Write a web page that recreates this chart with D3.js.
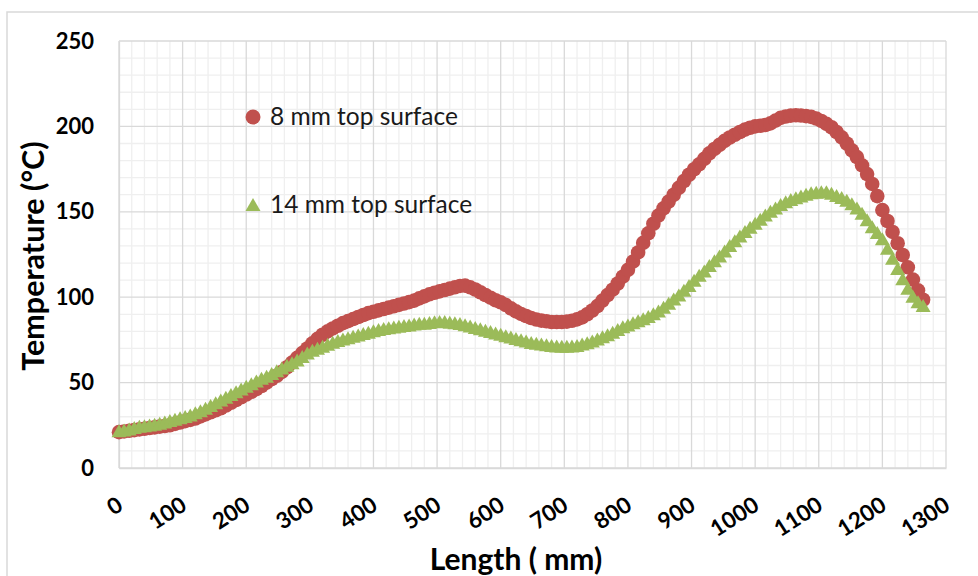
<!DOCTYPE html>
<html>
<head>
<meta charset="utf-8">
<script src="https://cdn.jsdelivr.net/npm/d3@7"></script>
<style>
  html, body { margin: 0; padding: 0; background: #fff; }
  svg { display: block; font-family: Lato, "Open Sans", sans-serif; }
</style>
</head>
<body>
<svg id="chart" width="978" height="576"></svg>
<script>
// measuring positions along the plate (mm)
const lengthMm = [
  0, 8, 16, 24, 32, 40, 48, 56, 64, 72,
  80, 88, 96, 104, 112, 120, 128, 136, 144, 152,
  160, 168, 176, 184, 192, 200, 208, 216, 224, 232,
  240, 248, 256, 264, 272, 280, 288, 296, 304, 312,
  320, 328, 336, 344, 352, 360, 368, 376, 384, 392,
  400, 408, 416, 424, 432, 440, 448, 456, 464, 472,
  480, 488, 496, 504, 512, 520, 528, 536, 544, 552,
  560, 568, 576, 584, 592, 600, 608, 616, 624, 632,
  640, 648, 656, 664, 672, 680, 688, 696, 704, 712,
  720, 728, 736, 744, 752, 760, 768, 776, 784, 792,
  800, 808, 816, 824, 832, 840, 848, 856, 864, 872,
  880, 888, 896, 904, 912, 920, 928, 936, 944, 952,
  960, 968, 976, 984, 992, 1000, 1008, 1016, 1024, 1032,
  1040, 1048, 1056, 1064, 1072, 1080, 1088, 1096, 1104, 1112,
  1120, 1128, 1136, 1144, 1152, 1160, 1168, 1176, 1184, 1192,
  1200, 1208, 1216, 1224, 1232, 1240, 1248, 1256, 1264
];

// 8 mm plate, top surface (°C)
const temp8mm = [
  21, 21.4, 21.8, 22.2, 22.6, 23, 23.4, 23.8, 24.2, 24.6,
  25, 25.8, 26.6, 27.4, 28.2, 29, 30.2, 31.4, 32.6, 33.8,
  35, 36.6, 38.2, 39.8, 41.4, 43, 44.6, 46.2, 48, 50,
  52, 54, 56.3, 59, 61.7, 64.5, 67.3, 70, 73, 75.6,
  78, 80, 81.7, 83.3, 84.8, 86, 87.2, 88.4, 89.6, 90.7,
  91.5, 92.3, 93.1, 93.9, 94.7, 95.5, 96.3, 97.1, 98, 99.3,
  100.5, 101.7, 102.6, 103.4, 104.2, 105, 105.8, 106.6, 106.8, 105.8,
  104.5, 102.9, 101.3, 99.7, 98.2, 97, 95.4, 93.5, 91.7, 90.2,
  89, 87.8, 86.9, 86.3, 85.9, 85.5, 85.5, 85.5, 85.7, 86.2,
  87, 88.2, 90, 92.2, 94.8, 98, 101.2, 104.4, 108, 112,
  116, 120.8, 126.2, 131.8, 137.4, 143, 147.8, 152, 156, 160,
  164, 168, 171.7, 174.9, 177.8, 181, 184.2, 186.8, 189.2, 191.5,
  193.5, 195.1, 196.7, 198.1, 199.2, 200, 200.4, 200.8, 201.8, 203.4,
  205, 205.8, 206.3, 206.5, 206.4, 206, 205.6, 204.6, 203.2, 201.5,
  199.5, 196.7, 193.6, 190, 186, 182, 177.2, 172.1, 166.3, 159.2,
  151, 144.6, 138.2, 131.6, 124.7, 117.5, 110.3, 104, 98.5
];

// 14 mm plate, top surface (°C)
const temp14mm = [
  21.5, 21.9, 22.6, 23.4, 24.1, 24.5, 24.9, 25.3, 25.9, 26.7,
  27.5, 28.3, 29.1, 29.9, 30.8, 32, 33.2, 34.7, 36.3, 37.9,
  39.5, 41.1, 42.7, 44.3, 45.9, 47.5, 49.1, 50.7, 52.2, 53.4,
  55, 56.6, 58.2, 59.8, 61.4, 63, 65, 67, 68.6, 69.8,
  71, 72.2, 73.4, 74.4, 75.2, 76, 76.8, 77.6, 78.4, 79.2,
  80, 80.8, 81.4, 81.8, 82.2, 82.7, 83.1, 83.5, 84, 84.4,
  84.5, 84.9, 85.3, 85.5, 85.5, 85.1, 84.7, 84.3, 83.6, 82.8,
  82, 81.2, 80.4, 79.6, 78.8, 78, 77.2, 76.4, 75.6, 74.8,
  74, 73.2, 72.7, 72.3, 71.9, 71.5, 71.1, 71, 71, 71.1,
  71.5, 72.3, 73.1, 74.1, 75.3, 76.5, 77.7, 79.2, 80.8, 82.4,
  83.5, 84.7, 85.9, 87.1, 88.4, 90, 91.6, 93.8, 96.2, 98.6,
  101, 103.8, 106.6, 109.6, 112.6, 115, 118.2, 121.1, 123.9, 126.8,
  130, 132.8, 135.6, 138.2, 140.6, 143, 145.4, 147.8, 150, 152,
  154, 155.6, 156.9, 158, 159, 160, 160.8, 161.2, 161.5, 161.5,
  160.5, 159.3, 158.1, 156.5, 154.4, 152, 148.8, 145, 141, 137.6,
  134, 128.4, 122.5, 116.5, 110.5, 105, 100.2, 97, 94.8
];

const xTicks = [0, 100, 200, 300, 400, 500, 600, 700, 800, 900, 1000, 1100, 1200, 1300];
const yTicks = [0, 50, 100, 150, 200, 250];
const seriesNames = ['8 mm top surface', '14 mm top surface'];
const seriesColors = ['#C0504D', '#9BBB59'];

const svg = d3.select('#chart');
const plot = { left: 119, right: 946, top: 41, bottom: 468 };

// outer chart frame (runs off the right/bottom of the picture)
svg.append('rect')
  .attr('x', 7).attr('y', 12)
  .attr('width', 1000).attr('height', 600)
  .attr('fill', '#fff')
  .attr('stroke', '#d9d9d9')
  .attr('stroke-width', 1.5);

const x = d3.scaleLinear().domain([0, 1300]).range([plot.left, plot.right]);
const y = d3.scaleLinear().domain([0, 250]).range([plot.bottom, plot.top]);

const grid = svg.append('g').attr('class', 'grid');

// minor grid: every 20 mm / 10 °C
grid.append('g')
  .selectAll('line')
  .data(x.ticks(65).filter(v => v % 100 !== 0))
  .join('line')
  .attr('x1', d => x(d)).attr('x2', d => x(d))
  .attr('y1', plot.top).attr('y2', plot.bottom)
  .attr('stroke', '#efefef').attr('stroke-width', 1.3);

grid.append('g')
  .selectAll('line')
  .data(y.ticks(25).filter(v => v % 50 !== 0))
  .join('line')
  .attr('x1', plot.left).attr('x2', plot.right)
  .attr('y1', d => y(d)).attr('y2', d => y(d))
  .attr('stroke', '#efefef').attr('stroke-width', 1.3);

// major grid
grid.append('g')
  .selectAll('line')
  .data(xTicks)
  .join('line')
  .attr('x1', d => x(d)).attr('x2', d => x(d))
  .attr('y1', plot.top).attr('y2', plot.bottom)
  .attr('stroke', '#d9d9d9').attr('stroke-width', 1.3);

grid.append('g')
  .selectAll('line')
  .data(yTicks)
  .join('line')
  .attr('x1', plot.left).attr('x2', plot.right)
  .attr('y1', d => y(d)).attr('y2', d => y(d))
  .attr('stroke', '#d9d9d9').attr('stroke-width', 1.3);

// y axis labels
const yAxis = svg.append('g')
  .attr('transform', `translate(${plot.left},0)`)
  .call(d3.axisLeft(y).tickValues(yTicks).tickSize(0).tickPadding(25))
  .call(a => a.select('.domain').attr('stroke', '#d9d9d9').attr('stroke-width', 1.3));
yAxis.selectAll('text')
  .attr('font-family', 'Lato, sans-serif')
  .attr('font-size', 22)
  .attr('font-weight', 'bold')
  .attr('fill', '#000');

// x axis labels (rotated)
const xAxis = svg.append('g')
  .attr('transform', `translate(0,${plot.bottom})`)
  .call(d3.axisBottom(x).tickValues(xTicks).tickSize(0).tickFormat(d3.format('d')))
  .call(a => a.select('.domain').attr('stroke', '#d9d9d9').attr('stroke-width', 1.3));
xAxis.selectAll('.tick text')
  .attr('font-family', 'Lato, sans-serif')
  .attr('font-size', 22.5)
  .attr('font-weight', 'bold')
  .attr('fill', '#000')
  .attr('text-anchor', 'end')
  .attr('dy', 0)
  .attr('y', 0)
  .attr('transform', 'translate(5,41) rotate(-33)');

// axis titles
svg.append('text')
  .attr('x', 516).attr('y', 570)
  .attr('text-anchor', 'middle')
  .attr('font-size', 30)
  .attr('font-weight', 'bold')
  .text('Length ( mm)');

svg.append('text')
  .attr('transform', 'translate(44,256) rotate(-90)')
  .attr('text-anchor', 'middle')
  .attr('font-size', 30.5)
  .attr('font-weight', 'bold')
  .text('Temperature (°C)');

// series markers
const tri = 'M0,-7L7.5,6L-7.5,6Z';
const marks = svg.append('g');

marks.append('g')
  .selectAll('circle')
  .data(lengthMm.map((d, i) => ({ x: d, t: temp8mm[i] })))
  .join('circle')
  .attr('cx', d => x(d.x))
  .attr('cy', d => y(d.t))
  .attr('r', 7.3)
  .attr('fill', seriesColors[0]);

marks.append('g')
  .selectAll('path')
  .data(lengthMm.map((d, i) => ({ x: d, t: temp14mm[i] })))
  .join('path')
  .attr('transform', d => `translate(${x(d.x)},${y(d.t)})`)
  .attr('d', tri)
  .attr('fill', seriesColors[1]);

// legend inside plot
const legend = svg.append('g');
const legendRows = [
  { name: seriesNames[0], color: seriesColors[0], cy: 117, shape: 'circle' },
  { name: seriesNames[1], color: seriesColors[1], cy: 205, shape: 'tri' },
];
legendRows.forEach(r => {
  if (r.shape === 'circle') {
    legend.append('circle').attr('cx', 253).attr('cy', r.cy).attr('r', 7.5).attr('fill', r.color);
  } else {
    legend.append('path').attr('transform', `translate(253,${r.cy})`).attr('d', tri).attr('fill', r.color);
  }
  legend.append('text')
    .attr('x', 270).attr('y', r.cy + 8)
    .attr('font-size', 24.5)
    .attr('fill', '#1a1a1a')
    .text(r.name);
});
</script>
</body>
</html>
